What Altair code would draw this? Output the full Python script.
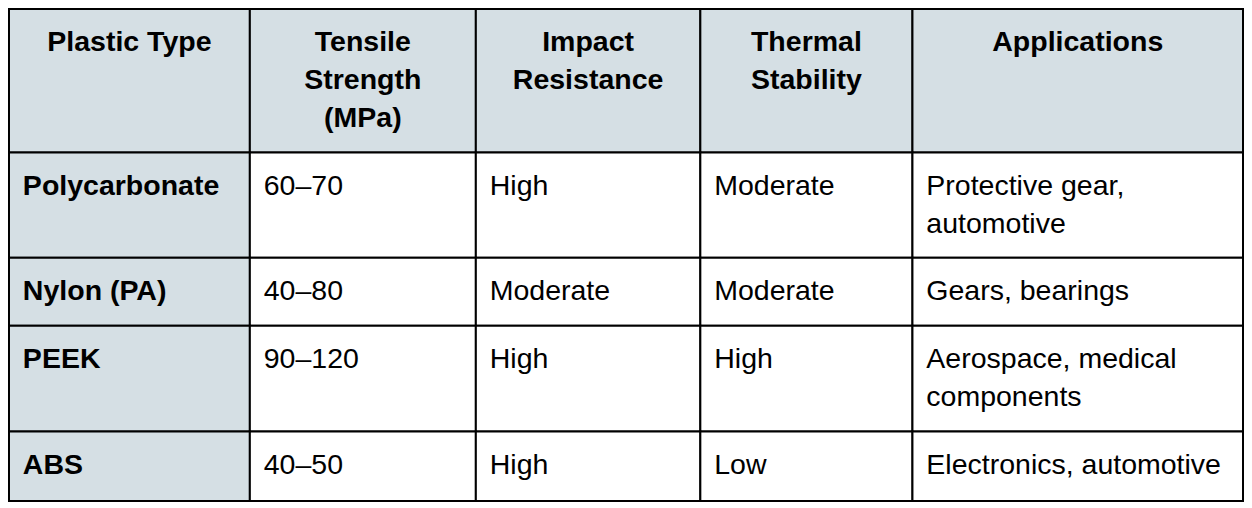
import altair as alt
import pandas as pd

# ---- table content ----
headers = ["Plastic Type", "Tensile\nStrength\n(MPa)", "Impact\nResistance", "Thermal\nStability", "Applications"]
plastics = ["Polycarbonate", "Nylon (PA)", "PEEK", "ABS"]
tensile = ["60–70", "40–80", "90–120", "40–50"]
impact = ["High", "Moderate", "High", "High"]
thermal = ["Moderate", "Moderate", "High", "Low"]
applications = ["Protective gear,\nautomotive", "Gears, bearings",
                "Aerospace, medical\ncomponents", "Electronics, automotive"]

# ---- layout (in reference pixel units) ----
col_edges = [2.5, 245.5, 473.5, 700, 914, 1247.5]
row_edges = [2.5, 149, 256.5, 326, 434, 505]
PAD_X = 14
BASE_OFF = 43
HEAD_BG = "#d5dfe4"
FONT = "Liberation Sans"
FS = 28.5
LH = 38

W, H = 1236, 494
xs = alt.Scale(domain=[1.5, 1248.5], nice=False, zero=False)
ys = alt.Scale(domain=[506, 1.5], nice=False, zero=False)

rows = [headers] + [list(r) for r in zip(plastics, tensile, impact, thermal, applications)]

cells, head_txt, bold_txt, norm_txt = [], [], [], []
for r, row in enumerate(rows):
    for c, val in enumerate(row):
        cells.append(dict(x=col_edges[c], x2=col_edges[c + 1],
                          y=row_edges[r], y2=row_edges[r + 1],
                          fill=HEAD_BG if (r == 0 or c == 0) else "#ffffff"))
        ty = row_edges[r] + BASE_OFF
        if r == 0:
            head_txt.append(dict(x=(col_edges[c] + col_edges[c + 1]) / 2, y=ty, t=val))
        elif c == 0:
            bold_txt.append(dict(x=col_edges[c] + PAD_X, y=ty, t=val))
        else:
            norm_txt.append(dict(x=col_edges[c] + PAD_X, y=ty, t=val))

X = lambda f: alt.X(f"{f}:Q", scale=xs, axis=None)
Y = lambda f: alt.Y(f"{f}:Q", scale=ys, axis=None)

rects = alt.Chart(pd.DataFrame(cells)).mark_rect(stroke="#000000", strokeWidth=2).encode(
    x=X("x"), x2="x2", y=Y("y"), y2="y2",
    fill=alt.Fill("fill:N", scale=None),
)

def txt(data, align, weight):
    return alt.Chart(pd.DataFrame(data)).mark_text(
        align=align, baseline="alphabetic", font=FONT, fontSize=FS,
        fontWeight=weight, color="#000000", lineBreak="\n", lineHeight=LH,
    ).encode(x=X("x"), y=Y("y"), text="t:N")

chart = alt.layer(
    rects,
    txt(head_txt, "center", "bold"),
    txt(bold_txt, "left", "bold"),
    txt(norm_txt, "left", "normal"),
).properties(
    width=W, height=H, padding=0, autosize=alt.AutoSizeParams(type="none")
).configure_view(stroke=None)

chart.save("out.html", embed_options={"renderer": "svg", "actions": False})
